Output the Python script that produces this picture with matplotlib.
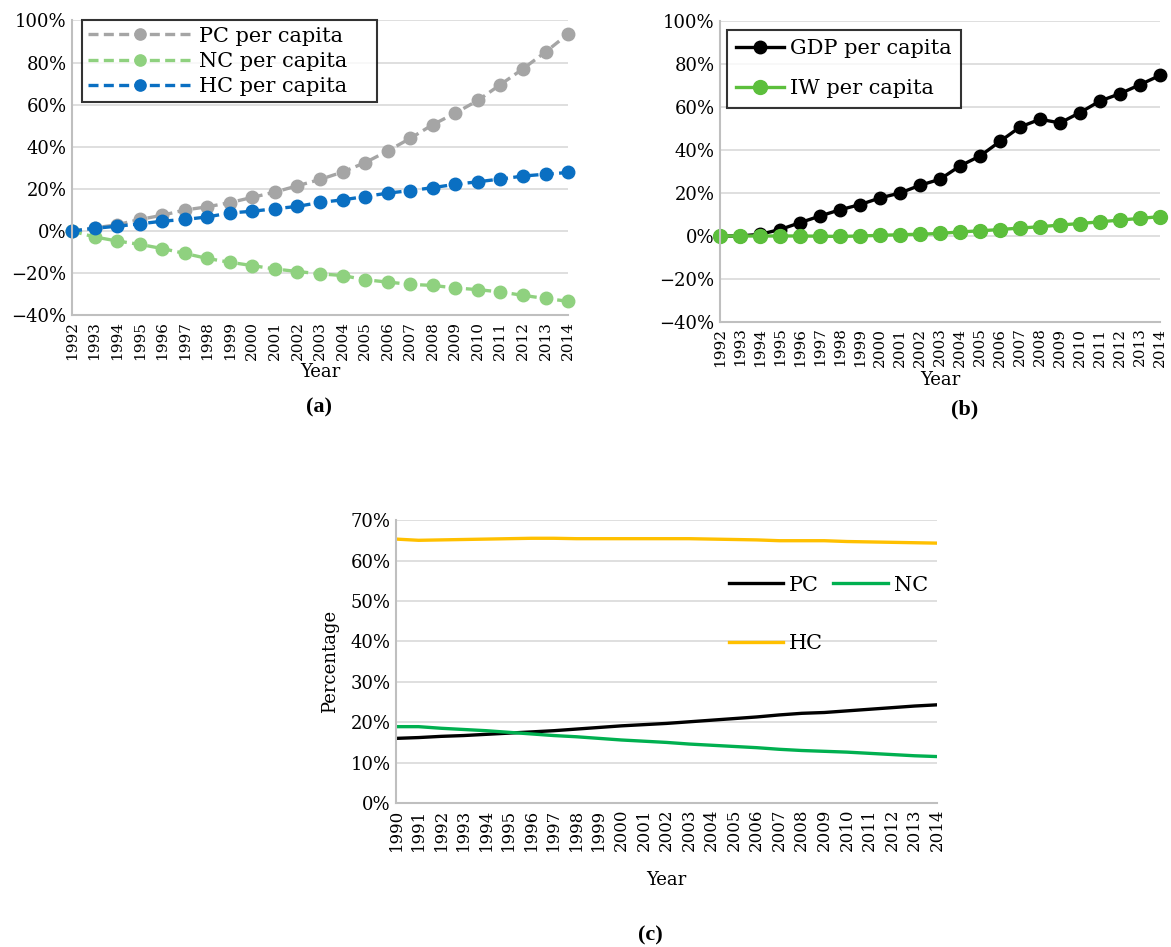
import matplotlib
matplotlib.use("Agg")
import matplotlib.pyplot as plt
from matplotlib.ticker import PercentFormatter

plt.rcParams['font.family'] = ['DejaVu Serif']

# ---- data (a) ----
years_ab = list(range(1992, 2015))
pc_pc = [0, 1.5, 3, 5.5, 7.5, 10, 11.5, 13.5, 16, 18.5, 21.5, 24.5, 28, 32.5,
         38, 44, 50.5, 56, 62, 69.5, 77, 85, 93.5]
nc_pc = [0, -2.8, -4.7, -6.3, -8.3, -10.6, -13, -14.8, -16.4, -18, -19.2, -20.3,
         -21.1, -23.1, -24.2, -25.3, -25.8, -27, -27.8, -28.9, -30.5, -32, -33.3]
hc_pc = [0, 1.3, 2.3, 3.4, 4.7, 5.5, 6.7, 8.6, 9.4, 10.6, 11.7, 13.6, 14.8, 16.4,
         18, 19.2, 20.6, 22.2, 23.4, 24.7, 26.1, 27, 27.8]

# ---- data (b) ----
gdp_pc = [0, 0, 0.8, 3, 6.2, 9.3, 12.2, 14.6, 17.7, 20, 23.6, 26.4, 32.6, 37.2,
          44, 50.7, 54.3, 52.6, 57.4, 62.8, 66.2, 70.4, 74.7]
iw_pc = [0, 0, 0, 0, 0, -0.1, -0.2, 0, 0.3, 0.6, 0.8, 1.2, 1.9, 2.4,
         3, 3.7, 4.3, 5.1, 5.8, 6.6, 7.4, 8.2, 9]

# ---- data (c) ----
years_c = list(range(1990, 2015))
pc_share = [16.0, 16.2, 16.5, 16.7, 17.0, 17.3, 17.6, 17.9, 18.3, 18.7, 19.1, 19.4,
            19.7, 20.1, 20.5, 20.9, 21.3, 21.8, 22.2, 22.4, 22.8, 23.2, 23.6, 24.0, 24.3]
nc_share = [18.9, 18.9, 18.5, 18.2, 17.9, 17.5, 17.1, 16.7, 16.4, 16.0, 15.6, 15.3,
            15.0, 14.6, 14.3, 14.0, 13.7, 13.3, 13.0, 12.8, 12.6, 12.3, 12.0, 11.7, 11.5]
hc_share = [65.3, 65.0, 65.1, 65.2, 65.3, 65.4, 65.5, 65.5, 65.4, 65.4, 65.4, 65.4,
            65.4, 65.4, 65.3, 65.2, 65.1, 64.9, 64.9, 64.9, 64.7, 64.6, 64.5, 64.4, 64.3]

GRID = '#d9d9d9'
SPINE = '#bfbfbf'


def style_axes(ax, years, ylo, yhi, step, xfs=11, xpad=6):
    ax.set_xlim(years[0], years[-1])
    ax.set_ylim(ylo, yhi)
    ax.set_yticks(range(ylo, yhi + 1, step))
    ax.yaxis.set_major_formatter(PercentFormatter(decimals=0))
    ax.set_xticks(years)
    ax.set_xticklabels([str(y) for y in years], rotation=90, fontsize=xfs)
    ax.tick_params(axis='y', labelsize=13)
    ax.tick_params(length=0, pad=4)
    ax.grid(axis='y', color=GRID, lw=1.2)
    ax.set_axisbelow(True)
    for s in ['top', 'right']:
        ax.spines[s].set_visible(False)
    for s in ['left', 'bottom']:
        ax.spines[s].set_color(SPINE)
        ax.spines[s].set_linewidth(1.5)
    ax.set_xlabel('Year', fontsize=13, labelpad=xpad)


fig = plt.figure(figsize=(11.71, 9.47), dpi=100)

# (a)
ax1 = fig.add_axes([0.0615, 0.667, 0.4236, 0.3115])
dash = (0, (3, 1.6))
ax1.plot(years_ab, pc_pc, color='#a5a5a5', ls=dash, lw=2.4, marker='o', ms=9, label='PC per capita')
ax1.plot(years_ab, nc_pc, color='#8fd17f', ls=dash, lw=2.4, marker='o', ms=9, label='NC per capita')
ax1.plot(years_ab, hc_pc, color='#0a6fc2', ls=dash, lw=2.4, marker='o', ms=9, label='HC per capita')
style_axes(ax1, years_ab, -40, 100, 20, xpad=2)
for ln in ax1.lines:
    ln.set_clip_on(False)
leg = ax1.legend(loc='upper left', bbox_to_anchor=(0.02, 1.0, 0.595, 0.0), mode='expand',
                 fontsize=15, frameon=True, fancybox=False, edgecolor='black',
                 handlelength=5.0, borderpad=0.3, labelspacing=0.3, borderaxespad=0,
                 handletextpad=0.3, markerscale=0.9)
leg.get_frame().set_linewidth(1.5)
fig.text(0.272, 0.564, '(a)', fontsize=16, fontweight='bold', family='Liberation Serif', ha='center')

# (b)
ax2 = fig.add_axes([0.6149, 0.66, 0.3757, 0.3178])
ax2.plot(years_ab, gdp_pc, color='black', lw=2.4, marker='o', ms=9, label='GDP per capita')
ax2.plot(years_ab, iw_pc, color='#5cbf3c', lw=2.4, marker='o', ms=10, label='IW per capita')
style_axes(ax2, years_ab, -40, 100, 20, xpad=3)
for ln in ax2.lines:
    ln.set_clip_on(False)
leg2 = ax2.legend(loc='upper left', bbox_to_anchor=(0.015, 0.97), fontsize=15, frameon=True,
                  fancybox=False, edgecolor='black', handlelength=2.3, borderpad=0.45,
                  labelspacing=1.0, borderaxespad=0, handletextpad=0.3)
leg2.get_frame().set_linewidth(1.5)
fig.text(0.824, 0.562, '(b)', fontsize=16, fontweight='bold', family='Liberation Serif', ha='center')

# (c)
ax3 = fig.add_axes([0.3382, 0.152, 0.462, 0.2988])
l_pc, = ax3.plot(years_c, pc_share, color='black', lw=2.4, label='PC')
l_nc, = ax3.plot(years_c, nc_share, color='#00b050', lw=2.4, label='NC')
l_hc, = ax3.plot(years_c, hc_share, color='#ffc000', lw=2.4, label='HC')
style_axes(ax3, years_c, 0, 70, 10, xfs=12, xpad=14)
ax3.set_ylabel('Percentage', fontsize=13, labelpad=8)
leg3 = ax3.legend([l_pc, l_hc, l_nc], ['PC', 'HC', 'NC'], loc='upper left',
                  bbox_to_anchor=(0.58, 0.87), ncol=2, frameon=False,
                  fontsize=15, handlelength=2.6, handletextpad=0.3, columnspacing=0.5,
                  labelspacing=1.9)
fig.text(0.555, 0.007, '(c)', fontsize=16, fontweight='bold', family='Liberation Serif', ha='center')

fig.savefig('out.png', dpi=100)
